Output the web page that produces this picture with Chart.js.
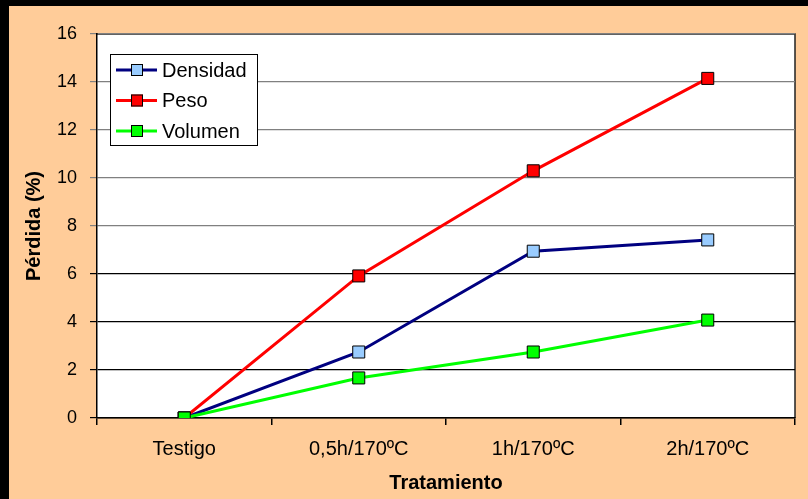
<!DOCTYPE html>
<html>
<head>
<meta charset="utf-8">
<script src="https://cdn.jsdelivr.net/npm/chart.js@4"></script>
<style>
  html, body { margin: 0; padding: 0; background: #000; }
  #wrap { position: absolute; left: 9px; top: 6px; width: 799px; height: 493px; background: #FFCC99; }
</style>
</head>
<body>
<div id="wrap"><canvas id="perdidaChart"></canvas></div>
<script>
// Data
const tratamientos = ['Testigo', '0,5h/170ºC', '1h/170ºC', '2h/170ºC'];
const densidad = [0, 2.75, 6.95, 7.42];
const peso = [0, 5.92, 10.3, 14.15];
const volumen = [0, 1.67, 2.75, 4.08];
const yTicks = [0, 2, 4, 6, 8, 10, 12, 14, 16];

const FONT = "'Liberation Sans', Arial, sans-serif";

// legend drawn as a boxed list inside the plot area
const boxLegend = {
    id: 'boxLegend',
    afterDraw(chart) {
        const ctx = chart.ctx;
        const x0 = 101, y0 = 48, w = 147, h = 91;
        ctx.save();
        ctx.fillStyle = '#fff';
        ctx.fillRect(x0, y0, w, h);
        ctx.strokeStyle = '#000';
        ctx.lineWidth = 1;
        ctx.strokeRect(x0 + 0.5, y0 + 0.5, w, h);
        ctx.font = '20px ' + FONT;
        ctx.textBaseline = 'middle';
        chart.data.datasets.forEach((ds, i) => {
            const cy = y0 + 16 + i * 30.5;
            ctx.strokeStyle = ds.borderColor;
            ctx.lineWidth = 3;
            ctx.beginPath();
            ctx.moveTo(x0 + 6, cy);
            ctx.lineTo(x0 + 47, cy);
            ctx.stroke();
            ctx.fillStyle = ds.pointBackgroundColor;
            ctx.fillRect(x0 + 21, cy - 6, 12, 12);
            ctx.strokeStyle = '#000';
            ctx.lineWidth = 1;
            ctx.strokeRect(x0 + 21.5, cy - 5.5, 11, 11);
            ctx.fillStyle = '#000';
            ctx.fillText(ds.label, x0 + 52, cy + 1);
        });
        ctx.restore();
    }
};

const plotBg = {
    id: 'plotBg',
    beforeDraw(chart) {
        const a = chart.chartArea;
        const ctx = chart.ctx;
        ctx.save();
        ctx.fillStyle = '#fff';
        ctx.fillRect(a.left, a.top, a.right - a.left, a.bottom - a.top);
        ctx.strokeStyle = '#222';
        ctx.lineWidth = 1.5;
        ctx.beginPath();
        ctx.moveTo(a.left, a.top);
        ctx.lineTo(a.right, a.top);
        ctx.lineTo(a.right, a.bottom);
        ctx.stroke();
        ctx.restore();
    }
};

function serie(label, data, line, fill, order) {
    return {
        label: label,
        data: data,
        borderColor: line,
        borderWidth: 3,
        pointStyle: 'rect',
        pointRadius: 8.5,
        pointHoverRadius: 8.5,
        pointBackgroundColor: fill,
        pointBorderColor: '#000',
        pointBorderWidth: 1,
        tension: 0,
        order: order
    };
}

new Chart(document.getElementById('perdidaChart'), {
    type: 'line',
    data: {
        labels: tratamientos,
        datasets: [
            serie('Densidad', densidad, '#000080', '#99CCFF', 2),
            serie('Peso', peso, '#FF0000', '#FF0000', 1),
            serie('Volumen', volumen, '#00FF00', '#00FF00', 0)
        ]
    },
    options: {
        responsive: true,
        maintainAspectRatio: false,
        animation: false,
        layout: { padding: { top: 28, right: 13, left: 9, bottom: 0 } },
        plugins: {
            legend: { display: false },
            tooltip: { enabled: false }
        },
        scales: {
            x: {
                offset: true,
                grid: {
                    offset: true,
                    drawOnChartArea: false,
                    color: '#000',
                    tickLength: 7,
                    lineWidth: 1.5
                },
                border: { color: '#000', width: 1.5 },
                ticks: { color: '#000', font: { family: FONT, size: 20 }, padding: 12 },
                title: {
                    display: true,
                    text: 'Tratamiento',
                    color: '#000',
                    font: { family: FONT, size: 20, weight: 'bold' },
                    padding: { top: 6 }
                },
                afterFit(scale) { scale.height = 81; }
            },
            y: {
                min: 0,
                max: 16,
                afterBuildTicks(scale) { scale.ticks = yTicks.map(v => ({ value: v })); },
                grid: {
                    color: ctx => (ctx.tick && ctx.tick.value >= 8 ? '#808080' : '#000'),
                    lineWidth: 1.2,
                    tickLength: 7
                },
                border: { color: '#000', width: 1.5 },
                ticks: { color: '#000', font: { family: FONT, size: 18 }, padding: 13 },
                title: {
                    display: true,
                    text: 'Pérdida (%)',
                    color: '#000',
                    font: { family: FONT, size: 20, weight: 'bold' },
                    padding: { bottom: 4 }
                },
                afterFit(scale) { scale.width = 79; }
            }
        }
    },
    plugins: [plotBg, boxLegend]
});
</script>
</body>
</html>
